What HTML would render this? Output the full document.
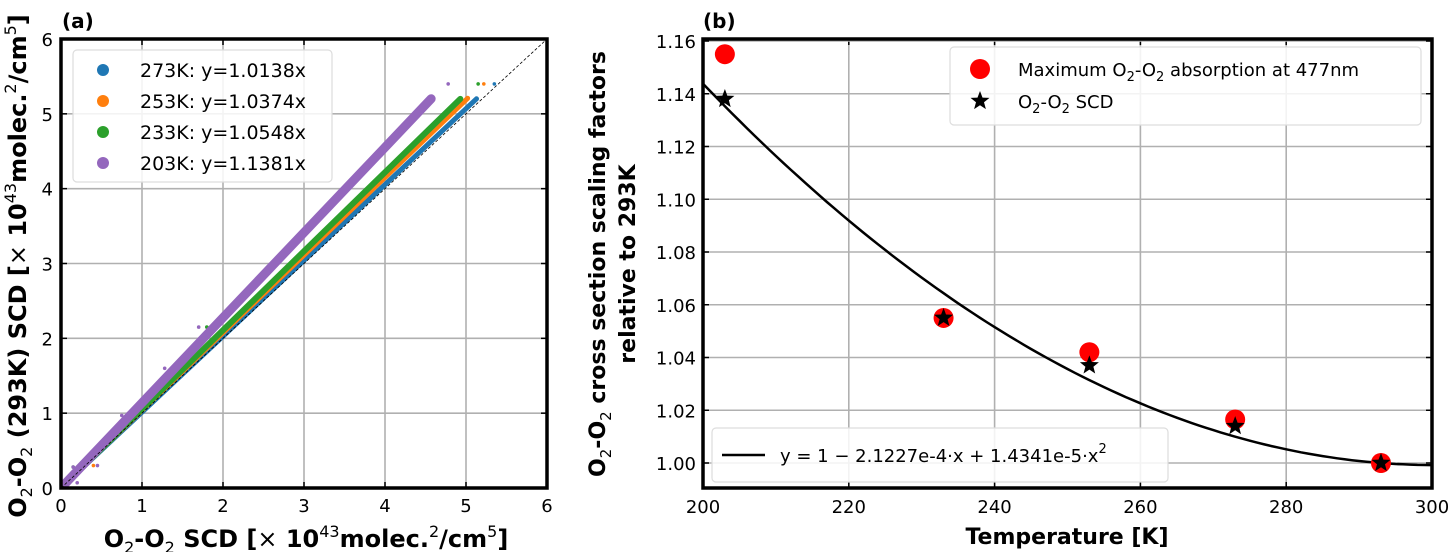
<!DOCTYPE html>
<html><head><meta charset="utf-8"><style>
body{margin:0;background:#fff}
svg{display:block;font-family:"DejaVu Sans","Liberation Sans",sans-serif}
</style></head><body>
<svg id="fig" width="1452" height="552" viewBox="0 0 1452 552">
<g id="pa"></g>
<g id="pb"></g>
</svg>
<script>
// ---- Panel (a) data ----
const aTicks = [0,1,2,3,4,5,6];
const aSeriesNames = ["273K: y=1.0138x","253K: y=1.0374x","233K: y=1.0548x","203K: y=1.1381x"];
const aSlopes = [1.0138,1.0374,1.0548,1.1381];
const aXMax = [5.13,5.02,4.93,4.57];
const aBandWidth = [5,5,6,9];
const aColors = ["#1f77b4","#ff7f0e","#2ca02c","#9467bd"];
const aOutX = [[5.35],[5.22,0.4],[5.15,1.8,0.15],[4.78,1.7,1.28,0.75,0.2,0.15,0.45]];
const aOutY = [[5.4],[5.4,0.3],[5.4,2.15,0.28],[5.4,2.15,1.6,0.97,0.07,0.28,0.3]];
// ---- Panel (b) data ----
const bXTicks = [200,220,240,260,280,300];
const bYTicks = [1.00,1.02,1.04,1.06,1.08,1.10,1.12,1.14,1.16];
const bTemps = [203,233,253,273,293];
const bAbs = [1.155,1.055,1.042,1.0165,1.000];
const bScd = [1.138,1.055,1.037,1.014,1.000];
const bFitA = -2.1227e-4, bFitB = 1.4341e-5;

const NS="http://www.w3.org/2000/svg";
function mk(tag,attrs,parent){const e=document.createElementNS(NS,tag);for(const k in attrs)e.setAttribute(k,attrs[k]);parent.appendChild(e);return e;}

// ===== Panel A =====
const pa=document.getElementById('pa');
const ax0=61,ax1=547,ay0=488,ay1=39;
const axX=v=>ax0+(v-0)/6*(ax1-ax0), axY=v=>ay0-(v-0)/6*(ay0-ay1);
aTicks.forEach(t=>{
  let g=mk('line',{x1:axX(t),x2:axX(t),y1:ay1,y2:ay0,stroke:'#b0b0b0','stroke-width':1.6},pa);
  
  g=mk('line',{x1:ax0,x2:ax1,y1:axY(t),y2:axY(t),stroke:'#b0b0b0','stroke-width':1.6},pa);
  
  let tx=mk('text',{x:axX(t),y:ay0+24,'font-size':18,'text-anchor':'middle'},pa);tx.textContent=t;
  
  tx=mk('text',{x:ax0-8,y:axY(t)+7,'font-size':18,'text-anchor':'end'},pa);tx.textContent=t;
  
  mk('line',{x1:axX(t),x2:axX(t),y1:ay0,y2:ay0-6,stroke:'#000','stroke-width':1.5},pa);
  mk('line',{x1:axX(t),x2:axX(t),y1:ay1,y2:ay1+6,stroke:'#000','stroke-width':1.5},pa);
  mk('line',{x1:ax0,x2:ax0+6,y1:axY(t),y2:axY(t),stroke:'#000','stroke-width':1.5},pa);
  mk('line',{x1:ax1,x2:ax1-6,y1:axY(t),y2:axY(t),stroke:'#000','stroke-width':1.5},pa);
});
aSlopes.forEach((s,i)=>{
  const l=mk('line',{x1:axX(0.05),y1:axY(0.05*s),x2:axX(aXMax[i]),y2:axY(aXMax[i]*s),stroke:aColors[i],'stroke-width':aBandWidth[i],'stroke-linecap':'round'},pa);
  
  aOutX[i].forEach((x,j)=>{
    const c=mk('circle',{cx:axX(x),cy:axY(aOutY[i][j]),r:1.8,fill:aColors[i]},pa);
    
  });
});
let d=mk('line',{x1:axX(0),y1:axY(0),x2:axX(6),y2:axY(6),stroke:'#000','stroke-width':0.8,'stroke-dasharray':'3,2'},pa);

let lg=mk('rect',{x:73,y:50,width:259,height:132,rx:4,fill:'#fff','fill-opacity':0.85,stroke:'#ddd','stroke-width':1.2},pa);

aSeriesNames.forEach((n,i)=>{
  const y=70+i*31;
  const c=mk('circle',{cx:103,cy:y,r:6,fill:aColors[i]},pa);
  
  const t=mk('text',{x:140,y:y+7,'font-size':19},pa);t.textContent=n;
  
});
let fr=mk('rect',{x:ax0,y:ay1,width:ax1-ax0,height:ay0-ay1,fill:'none',stroke:'#000','stroke-width':3.5},pa);

let ta=mk('text',{x:62,y:28,'font-size':20,'font-weight':'bold'},pa);ta.textContent='(a)';

let xl=mk('text',{x:306,y:547,'font-size':24,'font-weight':'bold','text-anchor':'middle'},pa);
xl.innerHTML='O<tspan font-size="16" font-weight="normal" dy="6">2</tspan><tspan dy="-6">-O</tspan><tspan font-size="16" font-weight="normal" dy="6">2</tspan><tspan dy="-6"> SCD [<tspan font-weight="normal">×</tspan> 10</tspan><tspan font-size="16" font-weight="normal" dy="-10">43</tspan><tspan dy="10">molec.</tspan><tspan font-size="16" font-weight="normal" dy="-10">2</tspan><tspan dy="10">/cm</tspan><tspan font-size="16" font-weight="normal" dy="-10">5</tspan><tspan dy="10">]</tspan>';

let yl=mk('text',{x:0,y:0,'font-size':24,'font-weight':'bold','text-anchor':'middle',transform:'translate(26,266) rotate(-90)'},pa);
yl.innerHTML='O<tspan font-size="16" font-weight="normal" dy="6">2</tspan><tspan dy="-6">-O</tspan><tspan font-size="16" font-weight="normal" dy="6">2</tspan><tspan dy="-6"> (293K) SCD [<tspan font-weight="normal">×</tspan> 10</tspan><tspan font-size="16" font-weight="normal" dy="-10">43</tspan><tspan dy="10">molec.</tspan><tspan font-size="16" font-weight="normal" dy="-10">2</tspan><tspan dy="10">/cm</tspan><tspan font-size="16" font-weight="normal" dy="-10">5</tspan><tspan dy="10">]</tspan>';


// ===== Panel B =====
const pb=document.getElementById('pb');
const bx0=703,bx1=1432,by0=488,by1=39;
const yA=463,yB=41; // pixel for 1.00 and 1.16
const bX=v=>bx0+(v-200)/100*(bx1-bx0), bY=v=>yA-(v-1.00)/0.16*(yA-yB);
bXTicks.forEach(t=>{
  let g=mk('line',{x1:bX(t),x2:bX(t),y1:by1,y2:by0,stroke:'#b0b0b0','stroke-width':1.6},pb);
  
  mk('line',{x1:bX(t),x2:bX(t),y1:by0,y2:by0-6,stroke:'#000','stroke-width':1.5},pb);
  mk('line',{x1:bX(t),x2:bX(t),y1:by1,y2:by1+6,stroke:'#000','stroke-width':1.5},pb);
  const tx=mk('text',{x:bX(t),y:by0+25,'font-size':18,'text-anchor':'middle'},pb);tx.textContent=t;
  
});
bYTicks.forEach(t=>{
  let g=mk('line',{x1:bx0,x2:bx1,y1:bY(t),y2:bY(t),stroke:'#b0b0b0','stroke-width':1.6},pb);
  
  mk('line',{x1:bx0,x2:bx0+6,y1:bY(t),y2:bY(t),stroke:'#000','stroke-width':1.5},pb);
  mk('line',{x1:bx1,x2:bx1-6,y1:bY(t),y2:bY(t),stroke:'#000','stroke-width':1.5},pb);
  const tx=mk('text',{x:bx0-7,y:bY(t)+7,'font-size':18,'text-anchor':'end'},pb);tx.textContent=t.toFixed(2);
  
});
let pts=[];
for(let T=200;T<=300;T+=1){const x=T-293;pts.push(bX(T).toFixed(1)+','+bY(1+bFitA*x+bFitB*x*x).toFixed(1));}
let fit=mk('polyline',{points:pts.join(' '),fill:'none',stroke:'#000','stroke-width':2.5},pb);

function star(cx,cy,R,parent){let p=[];for(let k=0;k<10;k++){const r=k%2?R*0.42:R;const a=-Math.PI/2+k*Math.PI/5;p.push((cx+r*Math.cos(a)).toFixed(1)+','+(cy+r*Math.sin(a)).toFixed(1));}return mk('polygon',{points:p.join(' '),fill:'#000'},parent);}
bTemps.forEach((T,i)=>{
  const c=mk('circle',{cx:bX(T),cy:bY(bAbs[i]),r:10,fill:'#ff0000'},pb);
  
});
bTemps.forEach((T,i)=>{
  const s=star(bX(T),bY(bScd[i]),10,pb);
  
});
let lb=mk('rect',{x:950,y:47,width:471,height:78,rx:4,fill:'#fff','fill-opacity':0.85,stroke:'#ddd','stroke-width':1.2},pb);

let m1=mk('circle',{cx:980,cy:69,r:10,fill:'#ff0000'},pb);

let t1=mk('text',{x:1018,y:76,'font-size':18},pb);
t1.innerHTML='Maximum O<tspan font-size="13" dy="5">2</tspan><tspan dy="-5">-O</tspan><tspan font-size="13" dy="5">2</tspan><tspan dy="-5"> absorption at 477nm</tspan>';

let m2=star(980,101,10,pb);

let t2=mk('text',{x:1018,y:108,'font-size':18},pb);
t2.innerHTML='O<tspan font-size="13" dy="5">2</tspan><tspan dy="-5">-O</tspan><tspan font-size="13" dy="5">2</tspan><tspan dy="-5"> SCD</tspan>';

let lb2=mk('rect',{x:712,y:428,width:456,height:54,rx:4,fill:'#fff','fill-opacity':0.85,stroke:'#ddd','stroke-width':1.2},pb);

mk('line',{x1:722,x2:765,y1:455,y2:455,stroke:'#000','stroke-width':2.5},pb);
let t3=mk('text',{x:780,y:462,'font-size':18},pb);
t3.innerHTML='y = 1 − 2.1227e-4·x + 1.4341e-5·x<tspan font-size="13" dy="-9">2</tspan>';

let fb=mk('rect',{x:bx0,y:by1,width:bx1-bx0,height:by0-by1,fill:'none',stroke:'#000','stroke-width':3.5},pb);

let tb=mk('text',{x:703,y:28,'font-size':20,'font-weight':'bold'},pb);tb.textContent='(b)';

let xb=mk('text',{x:1067,y:544,'font-size':22,'font-weight':'bold','text-anchor':'middle'},pb);xb.textContent='Temperature [K]';

let yb1=mk('text',{x:0,y:0,'font-size':22,'font-weight':'bold','text-anchor':'middle',transform:'translate(605,264) rotate(-90)'},pb);
yb1.innerHTML='O<tspan font-size="15" font-weight="normal" dy="6">2</tspan><tspan dy="-6">-O</tspan><tspan font-size="15" font-weight="normal" dy="6">2</tspan><tspan dy="-6"> cross section scaling factors</tspan>';

let yb2=mk('text',{x:0,y:0,'font-size':22,'font-weight':'bold','text-anchor':'middle',transform:'translate(635,264) rotate(-90)'},pb);
yb2.textContent='relative to 293K';

</script>
</body></html>
